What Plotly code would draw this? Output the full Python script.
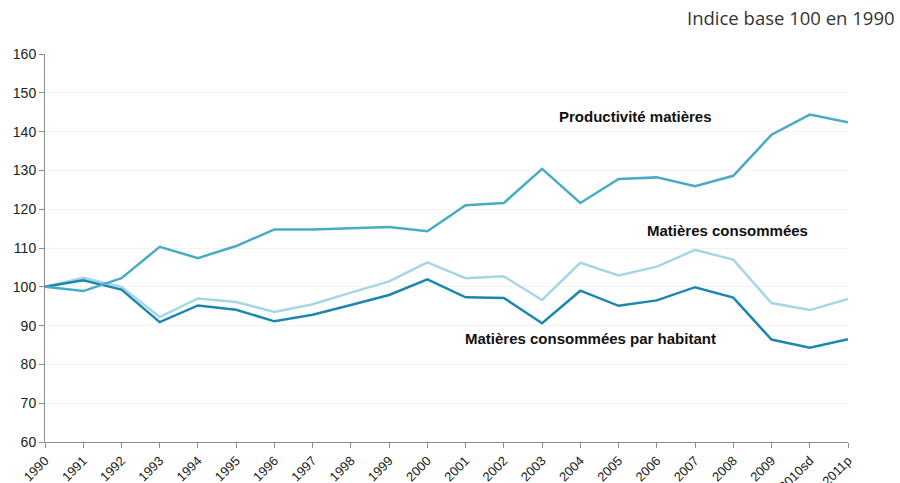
import plotly.graph_objects as go

years = ["1990", "1991", "1992", "1993", "1994", "1995", "1996", "1997", "1998", "1999",
         "2000", "2001", "2002", "2003", "2004", "2005", "2006", "2007", "2008", "2009",
         "2010sd", "2011p"]

productivite = [100, 98.9, 102.2, 110.3, 107.4, 110.5, 114.8, 114.8, 115.1, 115.4,
                114.3, 121.0, 121.6, 130.4, 121.6, 127.8, 128.2, 125.9, 128.6, 139.2,
                144.4, 142.4]

consommees = [100, 102.3, 100.0, 92.2, 97.0, 96.1, 93.5, 95.5, 98.5, 101.4,
              106.3, 102.2, 102.7, 96.6, 106.2, 102.9, 105.2, 109.5, 107.0, 95.8,
              94.0, 96.9]

par_habitant = [100, 101.7, 99.3, 90.9, 95.2, 94.1, 91.1, 92.8, 95.3, 97.9,
                101.9, 97.3, 97.1, 90.6, 99.0, 95.1, 96.5, 99.9, 97.2, 86.4,
                84.3, 86.5]

y_ticks = [60, 70, 80, 90, 100, 110, 120, 130, 140, 150, 160]

fig = go.Figure()
fig.add_trace(go.Scatter(x=years, y=consommees, mode="lines",
                         line=dict(color="#A6D6E6", width=2.5), name="Matières consommées"))
fig.add_trace(go.Scatter(x=years, y=par_habitant, mode="lines",
                         line=dict(color="#1C87AE", width=2.5), name="Matières consommées par habitant"))
fig.add_trace(go.Scatter(x=years, y=productivite, mode="lines",
                         line=dict(color="#4AABC7", width=2.5), name="Productivité matières"))

lab_font = dict(family="Liberation Sans, Arial, sans-serif", size=15, color="#111111")
fig.add_annotation(x=13.39, y=144.0, text="<b>Productivité matières</b>",
                   showarrow=False, font=lab_font, xanchor="left", yanchor="middle")
fig.add_annotation(x=15.69, y=114.6, text="<b>Matières consommées</b>",
                   showarrow=False, font=lab_font, xanchor="left", yanchor="middle")
fig.add_annotation(x=10.93, y=86.8, text="<b>Matières consommées par habitant</b>",
                   showarrow=False, font=lab_font, xanchor="left", yanchor="middle")

fig.add_annotation(x=1, y=1, xref="paper", yref="paper", xanchor="right", yanchor="bottom",
                   text="Indice base 100 en 1990", showarrow=False, yshift=22, xshift=49,
                   font=dict(family="Open Sans, Noto Sans, sans-serif", size=18.5, color="#333333"))

fig.update_layout(
    width=900, height=483,
    margin=dict(l=45, r=52, t=54, b=41),
    paper_bgcolor="white", plot_bgcolor="white",
    showlegend=False,
    font=dict(family="Liberation Sans, Arial, sans-serif", size=14, color="#222222"),
)
fig.update_xaxes(
    type="category", range=[0, 21], tickangle=-45,
    showline=True, linecolor="#8c8c8c", linewidth=1,
    ticks="outside", ticklen=5, tickcolor="#8c8c8c",
    showgrid=False, zeroline=False, automargin=False,
    tickfont=dict(size=13, color="#222222"),
)
fig.update_yaxes(
    range=[60, 160], tickvals=y_ticks,
    showline=True, linecolor="#8c8c8c", linewidth=1,
    ticks="outside", ticklen=5, tickcolor="#8c8c8c",
    showgrid=True, gridcolor="#f2f2f2", gridwidth=1,
    zeroline=False, automargin=False,
    tickfont=dict(size=14, color="#222222"),
)

fig.write_html("out.html", config={"displayModeBar": False},
               post_script="document.body.style.margin='0';document.body.style.overflow='hidden';")
